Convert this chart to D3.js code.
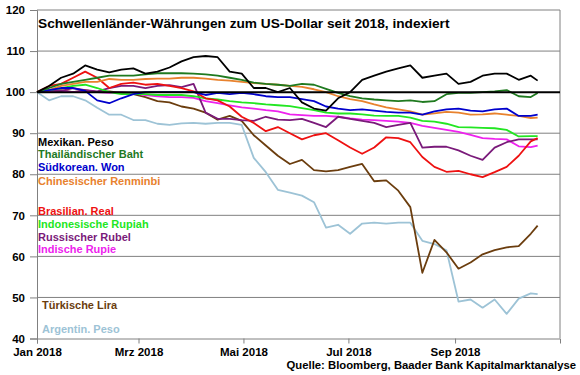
<!DOCTYPE html>
<html>
<head>
<meta charset="utf-8">
<script src="https://cdn.jsdelivr.net/npm/d3@7"></script>
<style>
    body { margin: 0; background: #fff; }
    text { font-family: "Liberation Sans", Arial, sans-serif; font-weight: bold; }
</style>
</head>
<body>
<svg id="chart" width="580" height="375"></svg>
<script>

// weekly observations, Jan 2018 - Oct 2018 (index, 2.1.2018 = 100)
let dates = ["2018-01-01", "2018-01-08", "2018-01-15", "2018-01-22", "2018-01-29", "2018-02-05",
    "2018-02-12", "2018-02-19", "2018-02-26", "2018-03-05", "2018-03-12", "2018-03-19", "2018-03-26",
    "2018-04-02", "2018-04-09", "2018-04-16", "2018-04-23", "2018-04-30", "2018-05-07", "2018-05-14",
    "2018-05-21", "2018-05-28", "2018-06-04", "2018-06-11", "2018-06-18", "2018-06-25", "2018-07-02",
    "2018-07-09", "2018-07-16", "2018-07-23", "2018-07-30", "2018-08-06", "2018-08-13", "2018-08-20",
    "2018-08-27", "2018-09-03", "2018-09-10", "2018-09-17", "2018-09-24", "2018-10-01", "2018-10-08",
    "2018-10-15", "2018-10-19"];

let mxn = [100, 101.5, 103.5, 104.5, 106.5, 105.5, 104.8, 105.5, 105.8, 104.5, 105, 106, 107.5,
    108.5, 108.8, 108.5, 105, 104.5, 101, 101, 100, 101, 97.5, 96, 95.5, 98.5, 100,
    103, 104, 105, 105.8, 106.5, 103.5, 104, 104.5, 102, 102.5, 104, 104.5, 104.5, 103, 104, 102.8];
let thb = [100, 101, 102, 102.5, 103, 103.5, 104, 104, 104, 104.3, 104.6, 104.6, 104.6,
    104.5, 104.3, 104, 103.5, 103, 102.3, 102, 101.8, 101.5, 102, 101.8, 100.8, 99.8, 99,
    98.5, 98.2, 98, 97.8, 98, 97.6, 97.8, 99.5, 99.8, 99.8, 100, 100.2, 100.5, 99, 98.8, 99.8];
let krw = [100, 100.5, 101, 101, 100.3, 98, 97.3, 98.5, 99.5, 100, 100, 100, 100,
    100, 99.3, 99.8, 99.5, 99.8, 99.5, 99, 98.8, 98.8, 98.3, 97.8, 96.5, 96, 95.6,
    95.8, 95.5, 95.2, 95, 95, 94.5, 95.3, 95.8, 96, 95.5, 95.3, 95.8, 96, 94.2, 94.2, 94.5];
let cny = [100, 100.5, 101.5, 102, 102.5, 102.5, 103.2, 103, 103, 103.2, 103.3, 103.3, 103.5,
    103.5, 103.3, 103, 102.8, 102.5, 102.2, 102, 101.8, 101.5, 101.3, 100.7, 100, 99, 98.3,
    97.8, 97, 96.3, 95.8, 95.3, 94.5, 94.8, 95.2, 95, 94.5, 94.6, 94.8, 94.5, 94.2, 93.7, 93.8];
let brl = [100, 101.5, 102, 103.5, 105, 103.5, 101, 102, 102.3, 101.8, 102, 101.5, 101,
    100.2, 98.5, 98, 96.5, 94, 92.5, 90.5, 91.5, 90, 88.5, 89.5, 90, 88.3, 86.5,
    85, 86.5, 89, 88.8, 87.8, 84.2, 81.8, 80.6, 80.8, 80, 79.3, 80.5, 81.8, 84.5, 88, 88.8];
let idr = [100, 100.5, 101, 101.5, 101.8, 101, 100, 99.5, 99.5, 99.5, 99.3, 99.3, 99.3,
    99, 98.5, 98.2, 97.8, 97.5, 97.3, 97, 96.8, 96.6, 96.1, 95.6, 95, 94.8, 94.8,
    94.6, 94.3, 94.2, 94.2, 93.8, 93, 92.8, 92.3, 91.5, 91.4, 91.3, 91.2, 90.8, 89.2, 89.3, 89.3];
let rub = [100, 100.5, 100.3, 101, 100.5, 100.2, 101, 101.5, 101.5, 101, 101.5, 101.7, 101.2,
    102, 95, 93.5, 93.5, 93.2, 93, 94, 93.3, 93.2, 93.5, 92.5, 91.5, 94, 93.5,
    93, 92.5, 91.5, 92, 92.5, 86.5, 86.7, 86.7, 85.8, 84.5, 83.5, 86.5, 87.8, 88.5, 88.5, 88.5];
let inr = [100, 100, 100.3, 100, 100.3, 100, 99.8, 100, 99.7, 99.3, 99, 98.8, 98.8,
    98.6, 97.8, 97.3, 96.8, 96.3, 96, 95.6, 95.3, 94.6, 94.4, 94.2, 94.2, 94, 93.6,
    93.3, 93.2, 93, 92.8, 92.5, 91.8, 91.3, 90.8, 90.3, 89.6, 88.8, 88.6, 88.5, 86.8, 86.6, 87];
let tryl = [100, 100.3, 100.5, 100, 100.5, 100, 100.2, 99.8, 99.5, 98.8, 97.8, 97.5, 96.5,
    96, 95, 93.3, 94.2, 93, 89.5, 87, 84.5, 82.5, 83.5, 81, 80.7, 81, 81.8,
    82.5, 78.3, 78.5, 76, 72, 56, 64, 61, 57, 58.5, 60.5, 61.5, 62.2, 62.5, 65.5, 67.5];
let ars = [100, 98, 99, 99, 98, 96.2, 94.5, 94.5, 93.2, 93.2, 92.3, 92, 92.4,
    92.5, 92.3, 92.5, 92.5, 92, 84, 80.5, 76.2, 75.5, 74.8, 73.2, 67, 67.7, 65.5,
    68, 68.2, 68, 68.2, 68.2, 63.8, 63, 61.5, 49, 49.5, 47.5, 49.5, 46, 49.7, 51, 50.8];

let names = ["Mexikan. Peso", "Thailändischer Baht", "Südkorean. Won", "Chinesischer Renminbi",
    "Brasilian. Real", "Indonesische Rupiah", "Russischer Rubel", "Indische Rupie",
    "Türkische Lira", "Argentin. Peso"];
let yTicks = [40, 50, 60, 70, 80, 90, 100, 110, 120];
let xTicks = ["2018-01-01", "2018-03-01", "2018-05-01", "2018-07-01", "2018-09-01"];
let xTickLabels = ["Jan 2018", "Mrz 2018", "Mai 2018", "Jul 2018", "Sep 2018"];

let series = [mxn, thb, krw, cny, brl, idr, rub, inr, tryl, ars];
let colors = ["#000000", "#1f7a1f", "#0000cc", "#e8822e", "#ee1111",
    "#22e622", "#7a1a7a", "#ee22ee", "#6b3d0e", "#9dc3d6"];
// label centre y (px) for the legend text block on the left
let labelY = [142, 154, 167, 181, 211, 224, 237, 249, 305, 329];
let labelX = [38, 38, 38, 38, 38, 38, 38, 38, 42, 42];

let parse = d3.timeParse("%Y-%m-%d");
let svg = d3.select("#chart");

let plotLeft = 37, plotRight = 560, plotTop = 10, plotBottom = 338.5;

let xScale = d3.scaleTime()
    .domain([parse("2018-01-01"), parse("2018-11-01")])
    .range([plotLeft, plotRight]);
let yScale = d3.scaleLinear()
    .domain([40, 120])
    .range([plotBottom, plotTop]);

// grid lines
svg.append("g").selectAll("line")
    .data(yTicks.filter(d => d !== 100 && d !== 40))
    .enter().append("line")
    .attr("x1", plotLeft).attr("x2", plotRight)
    .attr("y1", d => yScale(d)).attr("y2", d => yScale(d))
    .attr("stroke", "#808080").attr("stroke-width", 1);

// right border
svg.append("line")
    .attr("x1", plotRight).attr("x2", plotRight)
    .attr("y1", plotTop).attr("y2", plotBottom)
    .attr("stroke", "#808080");

// axes
let yAxis = d3.axisLeft(yScale).tickValues(yTicks).tickSize(7).tickPadding(5);
let yG = svg.append("g")
    .attr("transform", "translate(" + plotLeft + ",0)")
    .call(yAxis);
yG.selectAll("line, path").attr("stroke", "#808080");
yG.selectAll("text").attr("font-size", 11.5).attr("fill", "#000")
    .style("font-family", "'Liberation Sans', Arial, sans-serif");

let xAxis = d3.axisBottom(xScale)
    .tickValues(xTicks.map(parse))
    .tickFormat((d, i) => xTickLabels[i])
    .tickSizeInner(5).tickSizeOuter(5).tickPadding(4);
let xG = svg.append("g")
    .attr("transform", "translate(0," + plotBottom + ")")
    .call(xAxis);
xG.selectAll("line, path").attr("stroke", "#808080");
xG.selectAll("text").attr("font-size", 11.5).attr("fill", "#000")
    .style("font-family", "'Liberation Sans', Arial, sans-serif");

// series lines, drawn last-to-first so the black peso sits on top
let line = d3.line()
    .x((d, i) => xScale(parse(dates[i])))
    .y(d => yScale(d));

svg.append("g").selectAll("path")
    .data(series.map((s, i) => ({values: s, color: colors[i]})).reverse())
    .enter().append("path")
    .attr("d", d => line(d.values))
    .attr("fill", "none")
    .attr("stroke", d => d.color)
    .attr("stroke-width", 1.8)
    .attr("stroke-linejoin", "round");

// 100 reference line
svg.append("line")
    .attr("x1", plotLeft).attr("x2", plotRight)
    .attr("y1", yScale(100)).attr("y2", yScale(100))
    .attr("stroke", "#000").attr("stroke-width", 2);

// title
svg.append("text")
    .attr("x", 38).attr("y", 28)
    .attr("font-size", 13.7)
    .text("Schwellenländer-Währungen zum US-Dollar seit 2018, indexiert");

// legend labels
svg.append("g").selectAll("text")
    .data(names)
    .enter().append("text")
    .attr("x", (d, i) => labelX[i])
    .attr("y", (d, i) => labelY[i])
    .attr("dy", "0.35em")
    .attr("font-size", 11)
    .attr("fill", (d, i) => colors[i])
    .text(d => d);

// source
svg.append("text")
    .attr("x", 576).attr("y", 369)
    .attr("text-anchor", "end")
    .attr("font-size", 11.3)
    .text("Quelle: Bloomberg, Baader Bank Kapitalmarktanalyse");

</script>
</body>
</html>
